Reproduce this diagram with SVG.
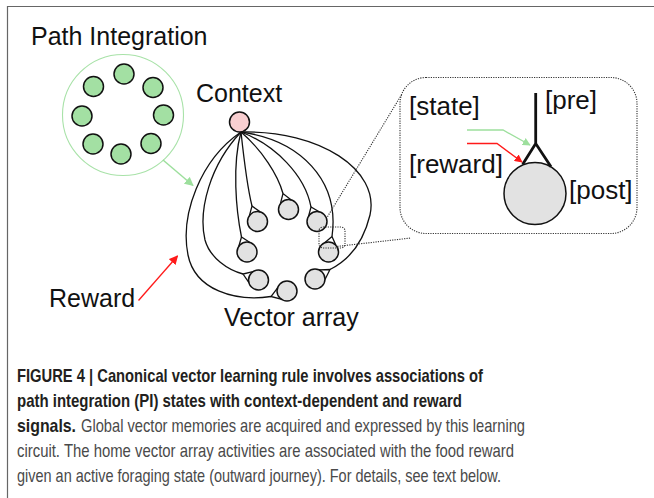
<svg xmlns="http://www.w3.org/2000/svg" width="654" height="498" viewBox="0 0 654 498">
<style>
text{font-family:"Liberation Sans",Arial,sans-serif;}
.lbl{font-size:25px;fill:#111;}
.ins{font-size:26px;fill:#111;}
.cap{font-size:18.5px;fill:#4a4a4a;}
.capb{font-size:18.5px;font-weight:bold;fill:#231f20;}
.pin{fill:#a3e0a3;stroke:#111;stroke-width:1.5;}
.vn{fill:#e2e2e2;stroke:#111;stroke-width:1.5;}
.con{fill:none;stroke:#111;stroke-width:1.3;}
.syn{fill:none;stroke:#111;stroke-width:1.3;}
.dot{fill:none;stroke:#333;stroke-width:1.1;stroke-dasharray:1.2 1.2;}
</style>
<defs>
<marker id="ag" viewBox="0 0 10 10" refX="9" refY="5" markerWidth="9" markerHeight="9" markerUnits="userSpaceOnUse" orient="auto"><path d="M0,0 L10,5 L0,10 z" fill="#9ddf9d"/></marker>
<marker id="ar" viewBox="0 0 10 10" refX="9" refY="5" markerWidth="9" markerHeight="9" markerUnits="userSpaceOnUse" orient="auto"><path d="M0,0 L10,5 L0,10 z" fill="#ff1a1a"/></marker>
<marker id="agi" viewBox="0 0 10 10" refX="9" refY="5" markerWidth="8" markerHeight="8" markerUnits="userSpaceOnUse" orient="auto"><path d="M0,0 L10,5 L0,10 z" fill="#9ddf9d"/></marker>
<marker id="ari" viewBox="0 0 10 10" refX="9" refY="5" markerWidth="8" markerHeight="8" markerUnits="userSpaceOnUse" orient="auto"><path d="M0,0 L10,5 L0,10 z" fill="#ff1a1a"/></marker>
</defs>

<g id="frame"><path d="M7.5,498 V6.5 H654" fill="none" stroke="#666" stroke-width="1.2"/></g>

<g id="path-integration">
<circle cx="123" cy="115" r="60.5" fill="none" stroke="#a8e2a8" stroke-width="1.1"/>
<circle class="pin" cx="124" cy="74" r="10"/>
<circle class="pin" cx="93.5" cy="86.5" r="10"/>
<circle class="pin" cx="153" cy="87.5" r="10"/>
<circle class="pin" cx="82" cy="116" r="10"/>
<circle class="pin" cx="163.5" cy="115" r="10"/>
<circle class="pin" cx="93" cy="144" r="10"/>
<circle class="pin" cx="121" cy="154" r="10"/>
<circle class="pin" cx="151" cy="143.5" r="10"/>
<text class="lbl" x="31" y="45">Path Integration</text>
</g>

<g id="connectors">
<line x1="163" y1="160" x2="193" y2="185.5" stroke="#9ddf9d" stroke-width="1.5" marker-end="url(#ag)"/>
<line x1="138.5" y1="300.5" x2="177.5" y2="256" stroke="#ff1a1a" stroke-width="1.3" marker-end="url(#ar)"/>
<path class="con" d="M241,132 C200,160 180,215 188,255 C195,290 235,302 271,296.5"/>
<path class="con" d="M241,132 C210,165 198,210 205,240 C210,258 228,270 243,274"/>
<path class="con" d="M241,132 C232,165 236,210 241.5,237"/>
<path class="con" d="M241,132 C244,160 248,190 252,206"/>
<path class="con" d="M241,132 C262,150 278,175 283,193.5"/>
<path class="con" d="M241,132 C275,145 305,175 311,207"/>
<path class="con" d="M241,132 C300,140 340,180 332,236.5"/>
<path class="con" d="M241,132 C320,130 380,170 370,215 C362,248 345,262 330,269.5"/>
<path class="dot" d="M320,229 L402,94"/>
<path class="dot" d="M323,248 L411,238"/>
</g>

<g id="context">
<circle cx="239.5" cy="122" r="10" fill="#f9cfd1" stroke="#111" stroke-width="1.5"/>
<text class="lbl" x="196" y="102">Context</text>
</g>

<g id="vector-array">
<g id="vA"><circle class="vn" cx="257.5" cy="221.5" r="10"/><path class="syn" d="M260.2,211.9 L252,206 L249.4,215.7"/></g>
<g id="vB"><circle class="vn" cx="288.5" cy="209.5" r="10"/><path class="syn" d="M291.3,199.9 L283,193.5 L280.4,203.6"/></g>
<g id="vC"><circle class="vn" cx="317" cy="221.5" r="10"/><path class="syn" d="M319.2,211.7 L311,207 L308.6,216.1"/></g>
<g id="vD"><circle class="vn" cx="247" cy="252" r="10"/><path class="syn" d="M249.6,242.3 L241.5,237 L238.8,246.3"/></g>
<g id="vE"><circle class="vn" cx="328.5" cy="252" r="10"/><path class="syn" d="M335.9,245.3 L332,236.5 L324.7,242.8"/></g>
<g id="vF"><circle class="vn" cx="258.5" cy="280" r="10"/><path class="syn" d="M252.9,271.7 L243,274 L248.8,282.4"/></g>
<g id="vG"><circle class="vn" cx="315" cy="279" r="10"/><path class="syn" d="M325,279.5 L330,269.5 L318.9,269.8"/></g>
<g id="vH"><circle class="vn" cx="287" cy="291" r="10"/><path class="syn" d="M277.4,288.2 L271,296.5 L281.1,299.1"/></g>
<rect class="dot" x="319" y="227" width="26" height="21" rx="4"/>
<text class="lbl" x="224" y="326">Vector array</text>
</g>

<g id="reward-label"><text class="lbl" x="49" y="307">Reward</text></g>

<g id="inset">
<rect class="dot" x="400" y="77.5" width="237" height="156" rx="26"/>
<circle cx="535" cy="193.5" r="31" fill="#e2e2e2" stroke="#111" stroke-width="1.5"/>
<path d="M535.7,93 V143.5 M522.7,164.3 L535.7,143.5 L551,166.7" fill="none" stroke="#111" stroke-width="2.8" stroke-linejoin="miter"/>
<path d="M467,130 H503 L530,145" fill="none" stroke="#9ddf9d" stroke-width="1.3" marker-end="url(#agi)"/>
<path d="M467,143.5 H497 L522,162" fill="none" stroke="#ff1a1a" stroke-width="1.3" marker-end="url(#ari)"/>
<text class="ins" x="409" y="115">[state]</text>
<text class="ins" x="545" y="109">[pre]</text>
<text class="ins" x="409" y="173">[reward]</text>
<text class="ins" x="569" y="199">[post]</text>
</g>

<g id="caption">
<text class="capb" x="17" y="382" textLength="466" lengthAdjust="spacingAndGlyphs">FIGURE 4 | Canonical vector learning rule involves associations of</text>
<text class="capb" x="17" y="407" textLength="445" lengthAdjust="spacingAndGlyphs">path integration (PI) states with context-dependent and reward</text>
<text class="capb" x="17" y="432" textLength="59" lengthAdjust="spacingAndGlyphs">signals.</text>
<text class="cap" x="81" y="432" textLength="444" lengthAdjust="spacingAndGlyphs">Global vector memories are acquired and expressed by this learning</text>
<text class="cap" x="17" y="457" textLength="497" lengthAdjust="spacingAndGlyphs">circuit. The home vector array activities are associated with the food reward</text>
<text class="cap" x="17" y="482" textLength="484" lengthAdjust="spacingAndGlyphs">given an active foraging state (outward journey). For details, see text below.</text>
</g>
</svg>
